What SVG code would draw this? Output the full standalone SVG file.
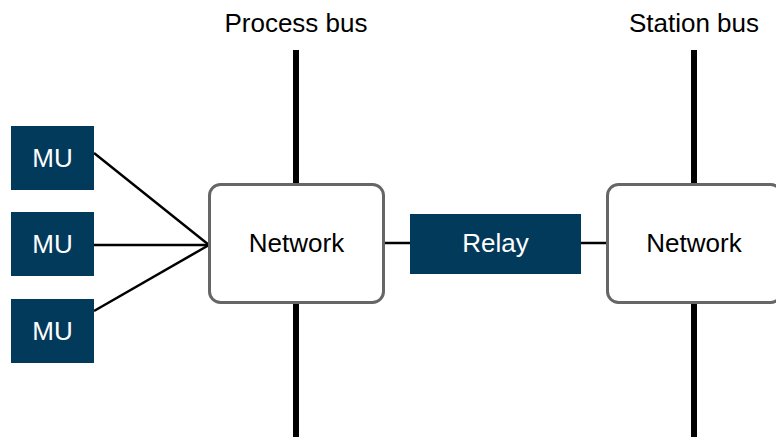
<svg xmlns="http://www.w3.org/2000/svg" width="776" height="437" viewBox="0 0 776 437">
  <style>
    .lbl { font-family: "Liberation Sans", Arial, sans-serif; font-size: 26px; text-anchor: middle; }
    .dark { fill: #023a5c; }
    .net { fill: #ffffff; stroke: #666666; stroke-width: 3; }
    .wt { fill: #ffffff; }
    .bk { fill: #000000; }
    .conn { stroke: #000000; stroke-width: 2.5; fill: none; }
    .bus { stroke: #000000; stroke-width: 6; fill: none; }
  </style>
  <rect width="776" height="437" fill="#ffffff"/>
  <g id="connectors">
    <line class="bus" x1="296" y1="50" x2="296" y2="184"/>
    <line class="bus" x1="296" y1="303" x2="296" y2="437"/>
    <line class="bus" x1="694" y1="50" x2="694" y2="184"/>
    <line class="bus" x1="694" y1="303" x2="694" y2="437"/>
    <line class="conn" x1="94" y1="153" x2="209" y2="245"/>
    <line class="conn" x1="94" y1="245" x2="209" y2="245"/>
    <line class="conn" x1="94" y1="311" x2="209" y2="245"/>
    <line class="conn" x1="384" y1="243" x2="410" y2="243"/>
    <line class="conn" x1="581" y1="243" x2="607" y2="243"/>
  </g>
  <g id="label-process-bus"><text class="lbl bk" x="296" y="32">Process bus</text></g>
  <g id="label-station-bus"><text class="lbl bk" x="694" y="32">Station bus</text></g>
  <g id="mu1"><rect class="dark" x="11" y="126" width="83" height="64"/><text class="lbl wt" x="52.5" y="167">MU</text></g>
  <g id="mu2"><rect class="dark" x="11" y="212" width="83" height="64"/><text class="lbl wt" x="52.5" y="253">MU</text></g>
  <g id="mu3"><rect class="dark" x="11" y="299" width="83" height="64"/><text class="lbl wt" x="52.5" y="340">MU</text></g>
  <g id="network1"><rect class="net" x="209.5" y="184.5" width="174" height="118" rx="11"/><text class="lbl bk" x="296.5" y="252">Network</text></g>
  <g id="relay"><rect class="dark" x="410" y="214" width="171" height="60"/><text class="lbl wt" x="495.5" y="252">Relay</text></g>
  <g id="network2"><rect class="net" x="607.5" y="184.5" width="174" height="118" rx="11"/><text class="lbl bk" x="694" y="252">Network</text></g>
</svg>
